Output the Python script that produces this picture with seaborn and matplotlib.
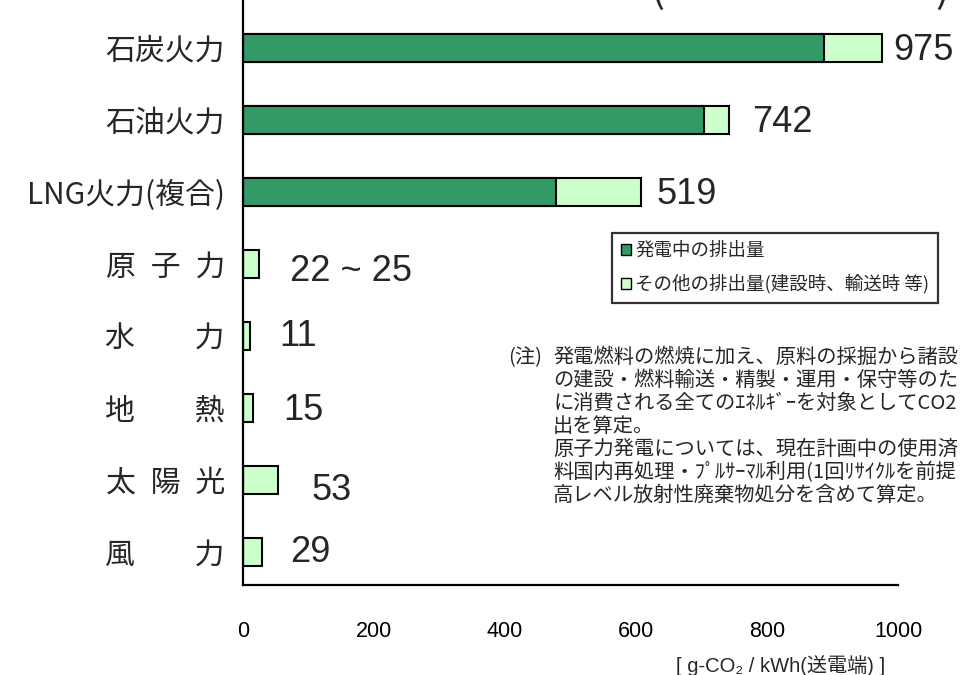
import matplotlib
matplotlib.use("Agg")
import matplotlib.pyplot as plt
import seaborn as sns
from matplotlib.patches import Patch

# ---------------- data ----------------
categories = ["石炭火力", "石油火力", "LNG火力(複合)", "原\u2002子\u2002力",
              "水　　力", "地　　熱", "太\u2002陽\u2002光", "風　　力"]
generation = [887, 704, 478, 0, 0, 0, 0, 0]       # 発電中の排出量
other = [88, 38, 130, 25, 11, 15, 53, 29]          # その他の排出量
value_labels = ["975", "742", "519", "22 ~ 25", "11", "15", "53", "29"]
x_ticks = [0, 200, 400, 600, 800, 1000]
legend_labels = ["発電中の排出量", "その他の排出量(建設時、輸送時 等)"]
x_label = "[ g-CO\u2082 / kWh(送電端) ]"
note_head = "(注)"
note_lines = [
    "発電燃料の燃焼に加え、原料の採掘から諸設",
    "の建設・燃料輸送・精製・運用・保守等のた",
    "に消費される全てのｴﾈﾙｷﾞｰを対象としてCO2",
    "出を算定。",
    "原子力発電については、現在計画中の使用済",
    "料国内再処理・ﾌﾟﾙｻｰﾏﾙ利用(1回ﾘｻｲｸﾙを前提",
    "高レベル放射性廃棄物処分を含めて算定。",
]

# ---------------- style ----------------
DARK = "#339966"
LIGHT = "#CCFFCC"
label_dx = [17, 35, 24, 47, 45, 46, 51, 43]
label_dy = [0.04, 0.03, 0.03, 0.11, 0.01, 0.03, 0.14, 0.01]

sns.set_style("white")
CJK = ["Noto Sans CJK JP", "DejaVu Sans"]
LAT = ["Liberation Sans", "Noto Sans CJK JP", "DejaVu Sans"]
plt.rcParams["font.family"] = CJK

totals = [g + o for g, o in zip(generation, other)]

fig = plt.figure(figsize=(9.72, 6.75), dpi=100)
ax = fig.add_axes([243 / 972, 1 - 585 / 675, 655 / 972, 585 / 675])

sns.barplot(x=totals, y=categories, orient="h", color=LIGHT, saturation=1,
            edgecolor="black", linewidth=1.5, width=0.4, ax=ax, zorder=3)
sns.barplot(x=generation, y=categories, orient="h", color=DARK, saturation=1,
            edgecolor="black", linewidth=1.5, width=0.4, ax=ax, zorder=4)

ax.set_xlim(0, 1000)
ax.set_ylim(7.458, -0.667)
for s in ["top", "right"]:
    ax.spines[s].set_visible(False)
for s in ["left", "bottom"]:
    ax.spines[s].set_linewidth(1.6)
    ax.spines[s].set_color("black")
    ax.spines[s].set_zorder(5)

ax.set_xticks(x_ticks)
ax.set_xticklabels([str(t) for t in x_ticks], family=LAT, fontsize=15.5)
ax.tick_params(axis="x", direction="in", length=6, width=1.5, pad=26, colors="black")
ax.tick_params(axis="y", which="major", length=0, pad=13, labelsize=21.5)
ax.set_yticks([i + 0.5 for i in range(-1, 7)], minor=True)
ax.tick_params(axis="y", which="minor", direction="in", length=5, width=1.5, color="black")
for t in ax.get_yticklabels():
    t.set_family(CJK)

ax.set_ylabel("")
ax.set_xlabel("")
ax.text(0.82, -0.137, x_label, transform=ax.transAxes, ha="center", va="center",
        fontsize=14.5, family=LAT)

for i, (tot, lab) in enumerate(zip(totals, value_labels)):
    ax.text(tot + label_dx[i], i + label_dy[i], lab, ha="left", va="center",
            fontsize=26, family=LAT, clip_on=False)

handles = [Patch(facecolor=DARK, edgecolor="black", linewidth=1.0),
           Patch(facecolor=LIGHT, edgecolor="black", linewidth=1.0)]
leg = ax.legend(handles, legend_labels, loc="upper left",
                bbox_to_anchor=((612 - 243) / 655, 1 - 233 / 585),
                borderaxespad=0, frameon=True, fancybox=False,
                handlelength=0.55, handleheight=0.55, handletextpad=0.2,
                labelspacing=0.75, borderpad=0.5, prop={"family": CJK, "size": 13.3})
leg.get_frame().set_edgecolor("black")
leg.get_frame().set_linewidth(1.6)
leg.set_zorder(6)

fig.text(508 / 972, 1 - 347 / 675, note_head, ha="left", va="top", fontsize=14.6,
         family=CJK)
fig.text(553 / 972, 1 - 347 / 675, "\n".join(note_lines), ha="left", va="top",
         fontsize=14.6, linespacing=1.12, family=CJK)

fig.text(650 / 972, 1 - 2 / 675, "(", ha="left", va="baseline", fontsize=30, family=CJK)
fig.text(935 / 972, 1 - 2 / 675, ")", ha="left", va="baseline", fontsize=30, family=CJK)

fig.savefig("out.png", dpi=100)
